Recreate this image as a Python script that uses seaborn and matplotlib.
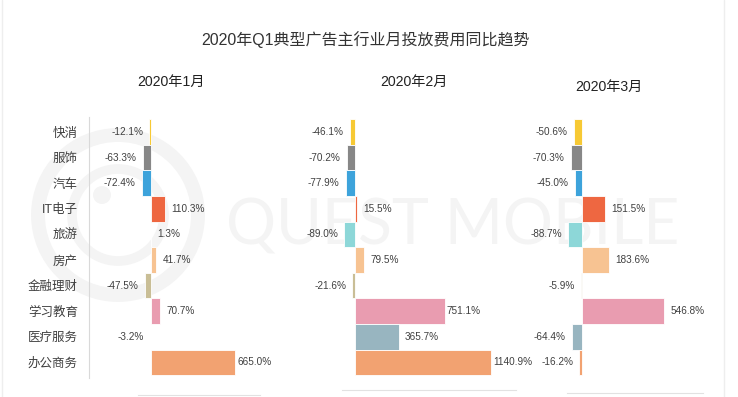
import matplotlib
matplotlib.use("Agg")
import matplotlib.pyplot as plt
import seaborn as sns
import pandas as pd
from matplotlib.patches import Circle

# data
categories = ['快消', '服饰', '汽车', 'IT电子', '旅游', '房产', '金融理财', '学习教育', '医疗服务', '办公商务']
months = ['2020年1月', '2020年2月', '2020年3月']
jan_values = [-12.1, -63.3, -72.4, 110.3, 1.3, 41.7, -47.5, 70.7, -3.2, 665.0]
feb_values = [-46.1, -70.2, -77.9, 15.5, -89.0, 79.5, -21.6, 751.1, 365.7, 1140.9]
mar_values = [-50.6, -70.3, -45.0, 151.5, -88.7, 183.6, -5.9, 546.8, -64.4, -16.2]
colors = ['#F7C934', '#878787', '#3DA3DB', '#EE6741', '#8DD7D8',
          '#F7C392', '#C9BE96', '#E99CB0', '#98B5C0', '#F2A271']

sns.set_theme(style='white')
plt.rcParams['font.family'] = ['Liberation Sans', 'Noto Sans CJK SC', 'DejaVu Sans']

W, H = 738, 397
fig = plt.figure(figsize=(W / 100, H / 100), dpi=100)
fig.patch.set_facecolor('white')

# background layer: watermark + borders
bg = fig.add_axes([0, 0, 1, 1], zorder=-1)
bg.set_xlim(0, W)
bg.set_ylim(H, 0)
bg.axis('off')
wm = '#F4F4F4'
bg.add_patch(Circle((118, 215), 80, fill=False, ec=wm, lw=10))
bg.add_patch(Circle((118, 215), 46, fill=False, ec=wm, lw=7))
bg.add_patch(Circle((102, 195), 9, fc=wm, ec='none'))
bg.text(453, 226, 'QUEST MOBILE', family='Lato', fontsize=45,
        color=wm, ha='center', va='center')
bg.plot([2, 2], [0, H], color='#EEEEEE', lw=1)
bg.plot([724, 724], [0, H], color='#EEEEEE', lw=1)

bg.text(366, 40, '2020年Q1典型广告主行业月投放费用同比趋势', fontsize=11.5,
        color='#333333', ha='center', va='center')

# panel layout in pixels
panels = [
    dict(vals=jan_values, left=89, right=260, bot=395, xlim=(-491, 863), line0=-103, tx=171, ty=82),
    dict(vals=feb_values, left=342, right=516, bot=390, xlim=(-109, 1350), line0=-109, tx=414, ty=82),
    dict(vals=mar_values, left=567, right=703, bot=393, xlim=(-98, 806), line0=-98, tx=609, ty=87),
]
top_px = 117
row_px = 25.6
row0_px = 132

for i, (p, month) in enumerate(zip(panels, months)):
    ax = fig.add_axes([p['left'] / W, 1 - p['bot'] / H,
                       (p['right'] - p['left']) / W, (p['bot'] - top_px) / H])
    ax.set_facecolor('none')
    df = pd.DataFrame({'cat': categories, 'val': p['vals']})
    sns.barplot(data=df, x='val', y='cat', hue='cat', palette=colors, orient='h',
                width=1.0, saturation=1, edgecolor='white', linewidth=0.6,
                legend=False, ax=ax)
    ax.set_xlim(*p['xlim'])
    ax.set_ylim((p['bot'] - row0_px) / row_px, -0.5 - (row0_px - row_px / 2 - top_px) / row_px)
    ax.set_xlabel('')
    ax.set_ylabel('')
    ax.set_xticks([])
    for s in ['top', 'right']:
        ax.spines[s].set_visible(False)
    ax.spines['bottom'].set_color('#E2E2E2')
    ax.spines['bottom'].set_linewidth(0.8)
    ax.spines['bottom'].set_bounds(p['line0'], p['xlim'][1])
    if i == 0:
        ax.spines['left'].set_color('#D9D9D9')
        ax.spines['left'].set_linewidth(0.8)
        ax.spines['left'].set_bounds(-0.6, 9.6)
        ax.tick_params(axis='y', length=0, pad=8, labelsize=9, labelcolor='#404040')
    else:
        ax.spines['left'].set_visible(False)
        ax.set_yticks([])

    for j, v in enumerate(p['vals']):
        gap = 1.5 if v > 600 else 4.5
        ax.annotate(f'{v:.1f}%', (v, j), xytext=(gap if v >= 0 else -gap, 0),
                    textcoords='offset points', ha='left' if v >= 0 else 'right',
                    va='center', fontsize=7.2, color='#404040')

    bg.text(p['tx'], p['ty'], month, fontsize=10.2, color='#222222', ha='center', va='center')

fig.savefig('out.png', dpi=100, facecolor='white')
